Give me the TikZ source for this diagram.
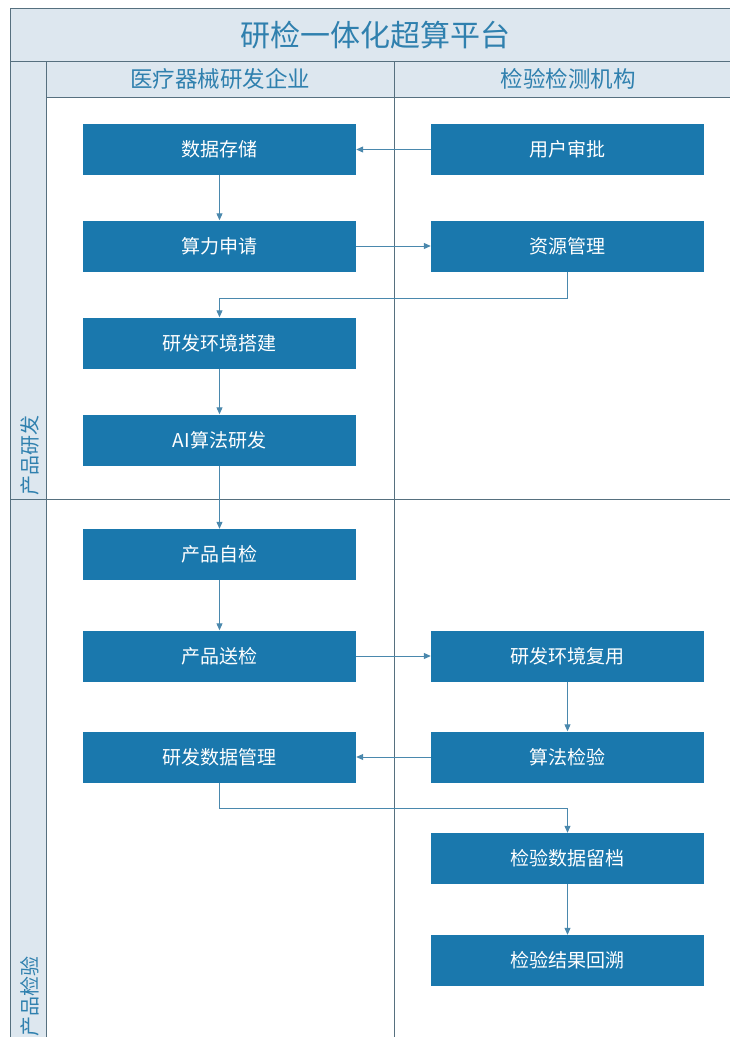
\documentclass[tikz,border=0pt]{standalone}
\usepackage{fontspec}
\setmainfont{Noto Sans CJK SC}
\usetikzlibrary{arrows.meta}
\definecolor{boxblue}{HTML}{1A78AD}
\definecolor{bandbg}{HTML}{DDE7EF}
\definecolor{headtext}{HTML}{2F80AE}
\definecolor{frameline}{HTML}{56707F}
\definecolor{flow}{HTML}{4A88AD}
\tikzset{
  stepbox/.style={draw=none, fill=boxblue, text=white, minimum width=273pt, minimum height=51pt, inner sep=0pt, font=\fontsize{19}{22}\selectfont},
  flowline/.style={draw=flow, line width=1pt, -{Triangle[length=7pt,width=6pt]}},
  frame/.style={draw=frameline, line width=1pt},
  headlbl/.style={text=headtext, font=\fontsize{22.5}{26}\selectfont, inner sep=0pt},
  lanelbl/.style={text=headtext, font=\fontsize{20}{22}\selectfont, inner sep=0pt, rotate=90, anchor=south west}
}
\begin{document}
\begin{tikzpicture}[x=1pt, y=-1pt]
\useasboundingbox (0,0) rectangle (730,1037);
\clip (0,0) rectangle (730,1037);
% backgrounds
\fill[white] (0,0) rectangle (730,1037);
\fill[bandbg] (10,8) rectangle (745,97);
\fill[bandbg] (10,97) rectangle (46,1045);
% frame lines
\draw[frame] (10,1045) -- (10,8) -- (745,8);
\draw[frame] (10,61) -- (745,61);
\draw[frame] (46,97) -- (745,97);
\draw[frame] (46,61) -- (46,1045);
\draw[frame] (394,61) -- (394,1045);
\draw[frame] (10,499) -- (745,499);
% header texts
\node[headlbl, font=\fontsize{30}{34}\selectfont] (title) at (375,35) {研检一体化超算平台};
\node[headlbl] (colA) at (220,79) {医疗器械研发企业};
\node[headlbl] (colB) at (568,79) {检验检测机构};
\node[lanelbl] (laneA) at (39,496) {产品研发};
\node[lanelbl] (laneB) at (39,1037) {产品检验};
% boxes
\node[stepbox] (sjcc) at (219.5,149.5) {数据存储};
\node[stepbox] (yhsp) at (567.5,149.5) {用户审批};
\node[stepbox] (slsq) at (219.5,246) {算力申请};
\node[stepbox] (zygl) at (567.5,246) {资源管理};
\node[stepbox] (hjdj) at (219.5,343) {研发环境搭建};
\node[stepbox] (aiyf) at (219.5,440) {AI算法研发};
\node[stepbox] (cpzj) at (219.5,554.5) {产品自检};
\node[stepbox] (cpsj) at (219.5,656) {产品送检};
\node[stepbox] (hjfy) at (567.5,656) {研发环境复用};
\node[stepbox] (sjgl) at (219.5,757) {研发数据管理};
\node[stepbox] (sfjy) at (567.5,757) {算法检验};
\node[stepbox] (sjld) at (567.5,858.5) {检验数据留档};
\node[stepbox] (jghs) at (567.5,960.5) {检验结果回溯};
% connectors
\draw[flowline] (yhsp) -- (sjcc);
\draw[flowline] (sjcc) -- (slsq);
\draw[flowline] (slsq) -- (zygl);
\draw[flowline] (zygl.south) -- ++(0,27) -| (hjdj.north);
\draw[flowline] (hjdj) -- (aiyf);
\draw[flowline] (aiyf) -- (cpzj);
\draw[flowline] (cpzj) -- (cpsj);
\draw[flowline] (cpsj) -- (hjfy);
\draw[flowline] (hjfy) -- (sfjy);
\draw[flowline] (sfjy) -- (sjgl);
\draw[flowline] (sjgl.south) -- ++(0,26) -| (sjld.north);
\draw[flowline] (sjld) -- (jghs);
\end{tikzpicture}
\end{document}
